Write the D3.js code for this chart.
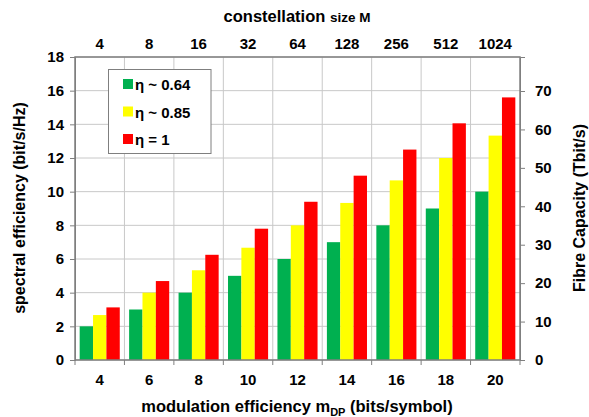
<!DOCTYPE html>
<html><head><meta charset="utf-8">
<script src="https://cdn.jsdelivr.net/npm/d3@7"></script>
<style>body{margin:0;background:#fff}text{font-family:"Liberation Sans",Arial,sans-serif;font-weight:bold;fill:#000}</style>
</head><body><svg id="c" width="589" height="417"></svg>
<script>
const categories = [4,6,8,10,12,14,16,18,20];
const constellation = ["4","8","16","32","64","128","256","512","1024"];
const seriesNames = ["η ~ 0.64","η ~ 0.85","η = 1"];
const green = [2,3,4,5,6,7,8,9,10];
const yellow = [2.67,4,5.33,6.67,8,9.33,10.67,12,13.33];
const red = [3.125,4.69,6.25,7.8,9.4,10.95,12.5,14.06,15.6];
const leftTicks = [0,2,4,6,8,10,12,14,16,18];
const rightTicks = [0,10,20,30,40,50,60,70];
const colors = ["#00B050","#FFFF00","#FF0000"];
const series = [green, yellow, red];

const svg = d3.select("#c");
const L=75,R=520,T=57,B=360;
const x = d3.scaleBand().domain(categories).range([L,R]).paddingInner(0).paddingOuter(0);
const xs = d3.scaleBand().domain([0,1,2]).range([0,x.bandwidth()]).paddingOuter(0.35).paddingInner(0);
const y = d3.scaleLinear().domain([0,18]).range([B,T]);
const y2 = d3.scaleLinear().domain([0,78.85]).range([B,T]);

// gridlines
const g = svg.append("g");
leftTicks.forEach(v=>g.append("line").attr("x1",L).attr("x2",R).attr("y1",y(v)).attr("y2",y(v)).attr("stroke","#c8c8c8").attr("stroke-width",1));
categories.forEach((c,i)=>{ if(i>0){const xx=x(c); g.append("line").attr("x1",xx).attr("x2",xx).attr("y1",T).attr("y2",B).attr("stroke","#c8c8c8");}});

// bars
series.forEach((s,si)=>{
  svg.append("g").selectAll("rect").data(s).join("rect")
    .attr("x",(d,i)=>x(categories[i])+xs(si)).attr("width",xs.bandwidth())
    .attr("y",d=>y(d)).attr("height",d=>B-y(d)).attr("fill",colors[si]);
});

// frame
svg.append("rect").attr("x",L).attr("y",T).attr("width",R-L).attr("height",B-T).attr("fill","none").attr("stroke","#7f7f7f").attr("stroke-width",1.5);

// left axis
const ax = svg.append("g").attr("transform",`translate(${L},0)`).call(d3.axisLeft(y).tickValues(leftTicks).tickSize(5).tickPadding(6));
ax.select(".domain").attr("stroke","#7f7f7f");
ax.selectAll(".tick line").attr("stroke","#7f7f7f");
ax.selectAll("text").style("font-size","15px");
// right axis
const ar = svg.append("g").attr("transform",`translate(${R},0)`).call(d3.axisRight(y2).tickValues(rightTicks).tickSize(5).tickPadding(10));
ar.select(".domain").attr("stroke","#7f7f7f");
ar.selectAll(".tick line").attr("stroke","#7f7f7f");
ar.selectAll("text").style("font-size","15px");
// bottom axis
const ab = svg.append("g").attr("transform",`translate(0,${B})`).call(d3.axisBottom(x).tickSize(0).tickPadding(14));
ab.select(".domain").remove();
ab.selectAll("text").style("font-size","15px");
categories.forEach((c,i)=>{const xx=x(c); svg.append("line").attr("x1",xx).attr("x2",xx).attr("y1",B).attr("y2",B+5).attr("stroke","#7f7f7f");});
svg.append("line").attr("x1",R).attr("x2",R).attr("y1",B).attr("y2",B+5).attr("stroke","#7f7f7f");
// top axis
const xt = d3.scaleBand().domain(constellation).range([L,R]);
const at = svg.append("g").attr("transform",`translate(0,${T})`).call(d3.axisTop(xt).tickSize(0).tickPadding(8));
at.select(".domain").remove();
at.selectAll("text").style("font-size","15px");

// titles
const tt = svg.append("text").attr("x",297).attr("y",22).attr("text-anchor","middle").style("font-size","16.5px");
tt.append("tspan").text("constellation ");
tt.append("tspan").style("font-size","13.5px").text("size M");
const bt = svg.append("text").attr("x",297).attr("y",412).attr("text-anchor","middle").style("font-size","16.5px");
bt.append("tspan").text("modulation efficiency m");
bt.append("tspan").style("font-size","11px").attr("dy",4).text("DP");
bt.append("tspan").attr("dy",-4).text(" (bits/symbol)");
svg.append("text").attr("transform","translate(25,208) rotate(-90)").attr("text-anchor","middle").style("font-size","16px").text("spectral efficiency (bit/s/Hz)");
svg.append("text").attr("transform","translate(585,208) rotate(-90)").attr("text-anchor","middle").style("font-size","16px").text("Fibre Capacity (Tbit/s)");

// legend
const lg = svg.append("g");
lg.append("rect").attr("x",108.5).attr("y",69.5).attr("width",102.5).attr("height",84).attr("fill","#fff").attr("stroke","#7f7f7f").attr("stroke-width",1);
seriesNames.forEach((n,i)=>{
  const yy = 85 + i*27.5;
  lg.append("rect").attr("x",123).attr("y",yy-6).attr("width",10).attr("height",10).attr("fill",colors[i]);
  lg.append("text").attr("x",135).attr("y",yy+5).style("font-size","15px").text(n);
});
</script></body></html>
